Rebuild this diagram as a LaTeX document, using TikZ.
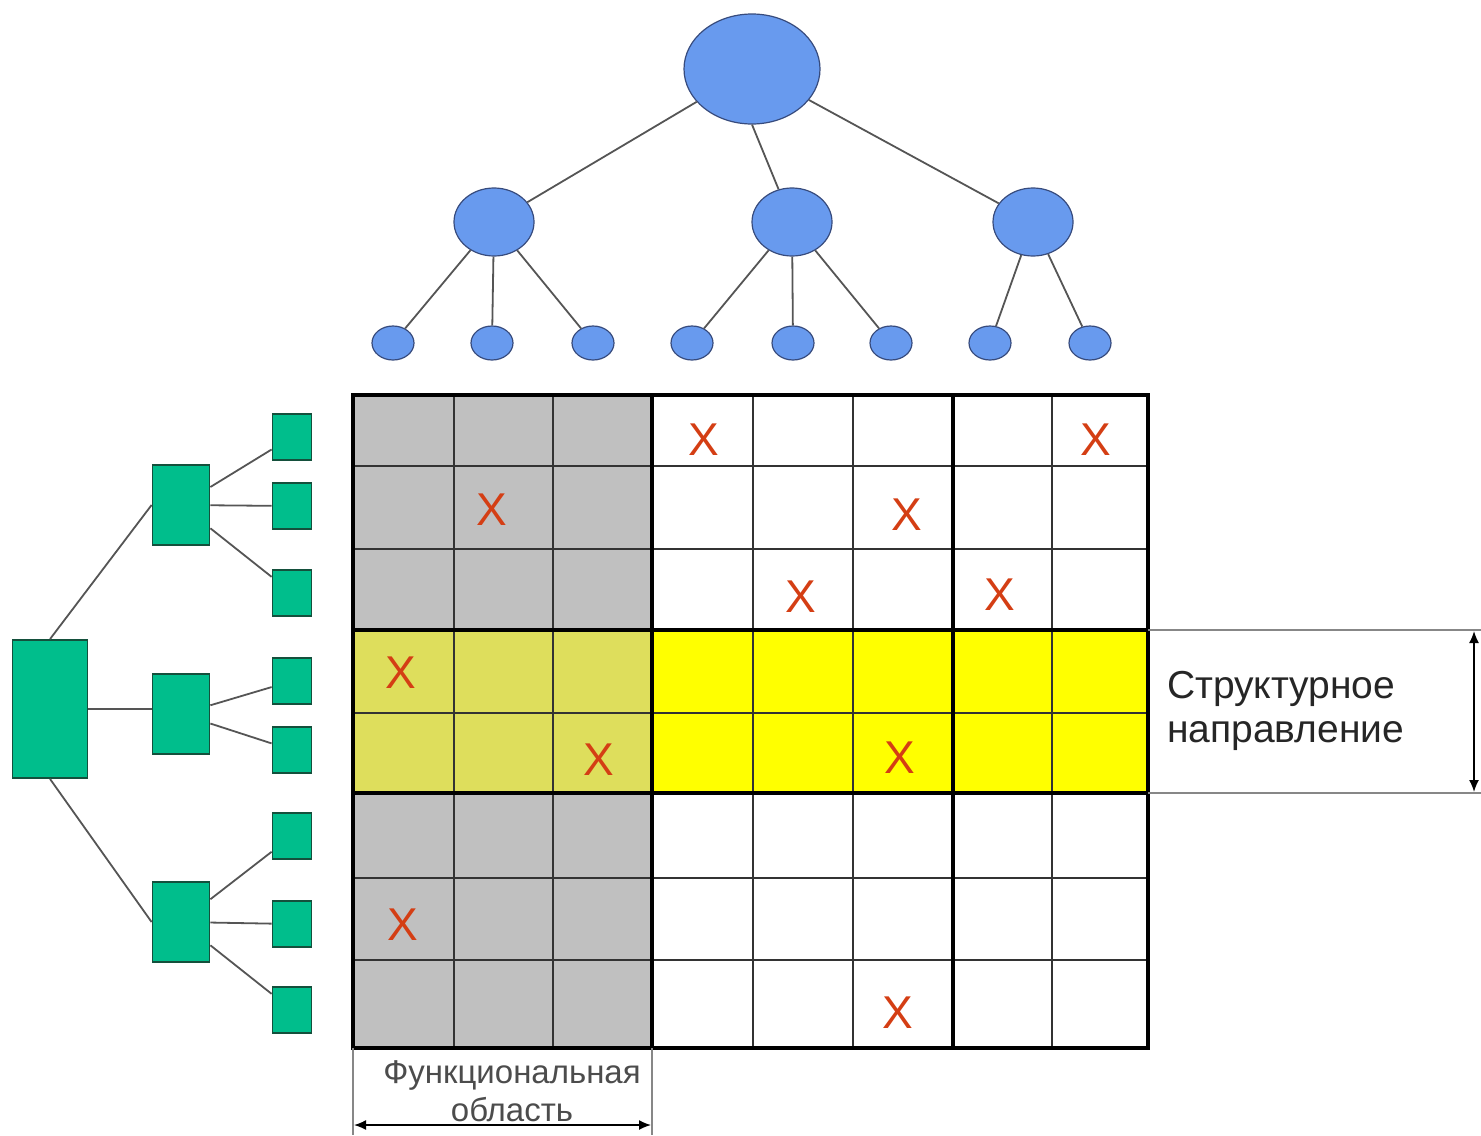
\documentclass[tikz,border=0pt]{standalone}
\usepackage{fontspec}
\setmainfont{Liberation Sans}
\usetikzlibrary{arrows.meta, shapes.geometric}

\definecolor{blueNode}{RGB}{104,154,238}
\definecolor{blueEdge}{RGB}{55,75,125}
\definecolor{greenNode}{RGB}{0,190,140}
\definecolor{greenEdge}{RGB}{20,80,60}
\definecolor{cellGray}{RGB}{192,192,192}
\definecolor{cellOlive}{RGB}{222,222,92}
\definecolor{cellYellow}{RGB}{255,255,0}
\definecolor{markRed}{RGB}{212,62,20}
\definecolor{lineGray}{RGB}{85,85,85}
\definecolor{dimGray}{RGB}{135,135,135}

\begin{document}
\begin{tikzpicture} [
						x=0.5pt, y=-0.5pt,
						circ/.style={ellipse, draw=blueEdge, fill=blueNode, line width=0.6pt, inner sep=0pt},
						box/.style={rectangle, draw=greenEdge, fill=greenNode, line width=0.9pt, inner sep=0pt},
						link/.style={draw=lineGray, line width=0.9pt},
						xmark/.style={text=markRed, font=\fontsize{23}{23}\selectfont, inner sep=0pt},
						gridthin/.style={draw=black!80, line width=0.9pt},
						gridthick/.style={draw=black, line width=1.6pt},
						dimline/.style={draw=dimGray, line width=0.8pt},
						dimarrow/.style={draw=black, line width=0.8pt, {Latex[length=6pt,width=5pt]}-{Latex[length=6pt,width=5pt]}}
					]

\useasboundingbox (0,0) rectangle (1481,1135);

% top tree
\node (t0) [circ, minimum width=68pt, minimum height=55pt] at (752,69) {};
\node (t1) [circ, minimum width=40pt, minimum height=34pt] at (494,222) {};
\node (t2) [circ, minimum width=40pt, minimum height=34pt] at (792,222) {};
\node (t3) [circ, minimum width=40pt, minimum height=34pt] at (1033,222) {};
\foreach \x [count=\i] in {393,492,593,692,793,891,990,1090}
	\node (l\i) [circ, minimum width=21pt, minimum height=17pt] at (\x,343) {};

\path[link]
	(t0) edge (t1)
	(t0.south) edge (t2)
	(t0) edge (t3)
	(t1) edge (l1)
	(t1) edge (l2)
	(t1) edge (l3)
	(t2) edge (l4)
	(t2) edge (l5)
	(t2) edge (l6)
	(t3) edge (l7)
	(t3) edge (l8);

% left tree
\node (g0) [box, minimum width=37.5pt, minimum height=69pt] at (50,709) {};
\node (g1) [box, minimum width=28.5pt, minimum height=40pt] at (181,505) {};
\node (g2) [box, minimum width=28.5pt, minimum height=40pt] at (181,714) {};
\node (g3) [box, minimum width=28.5pt, minimum height=40pt] at (181,922) {};
\foreach \y [count=\i] in {437,506,593,681,750,836,924,1010}
	\node (s\i) [box, minimum width=19.5pt, minimum height=23pt] at (292,\y) {};

\path[link]
	(g0.north) edge (g1.west)
	(g0.east) edge (g0.east -| g2.west)
	(g0.south) edge (g3.west)
	(g1) edge (s1)
	(g1) edge (s2)
	(g1) edge (s3)
	(g2) edge (s4)
	(g2) edge (s5)
	(g3) edge (s6)
	(g3) edge (s7)
	(g3) edge (s8);

% matrix
\fill[cellGray] (353,395) rectangle (652,630);
\fill[cellGray] (353,793) rectangle (652,1048);
\fill[cellOlive] (353,630) rectangle (652,793);
\fill[cellYellow] (652,630) rectangle (1148,793);
\foreach \x in {454,553,753,853,1052}
	\draw[gridthin] (\x,395) -- (\x,1048);
\foreach \y in {466,549,713,878,960}
	\draw[gridthin] (353,\y) -- (1148,\y);
\foreach \x in {652,953}
	\draw[gridthick] (\x,395) -- (\x,1048);
\foreach \y in {630,793}
	\draw[gridthick] (353,\y) -- (1148,\y);
\draw[gridthick] (353,395) rectangle (1148,1048);

\foreach \cx/\cy [count=\i] in {704/440, 1096/440, 492/510, 907/515, 801/597, 1000/595, 401/673, 599/760, 900/758, 403/925, 898/1013}
	\node (x\i) [xmark] at (\cx,\cy) {X};

% dimensions
\coordinate (sa) at (1148,630);
\coordinate (sb) at (1481,630);
\coordinate (sc) at (1148,793);
\coordinate (sd) at (1481,793);
\coordinate (se) at (1474,631);
\coordinate (sf) at (1474,792);
\draw[dimline] (sa) -- (sb);
\draw[dimline] (sc) -- (sd);
\draw[dimarrow] (se) -- (sf);
\node (struct) [anchor=west, align=left, font=\fontsize{19.5}{22}\selectfont, text=black!85] at (1160,711) {Структурное\\направление};

\coordinate (fa) at (353,1048);
\coordinate (fb) at (353,1135);
\coordinate (fc) at (652,1048);
\coordinate (fd) at (652,1135);
\coordinate (fe) at (354,1125);
\coordinate (ff) at (651,1125);
\draw[dimline] (fa) -- (fb);
\draw[dimline] (fc) -- (fd);
\draw[dimarrow] (fe) -- (ff);
\node (func) [align=center, font=\fontsize{16.5}{19}\selectfont, text=black!70] at (512,1091) {Функциональная\\область};
\end{tikzpicture}
\end{document}
